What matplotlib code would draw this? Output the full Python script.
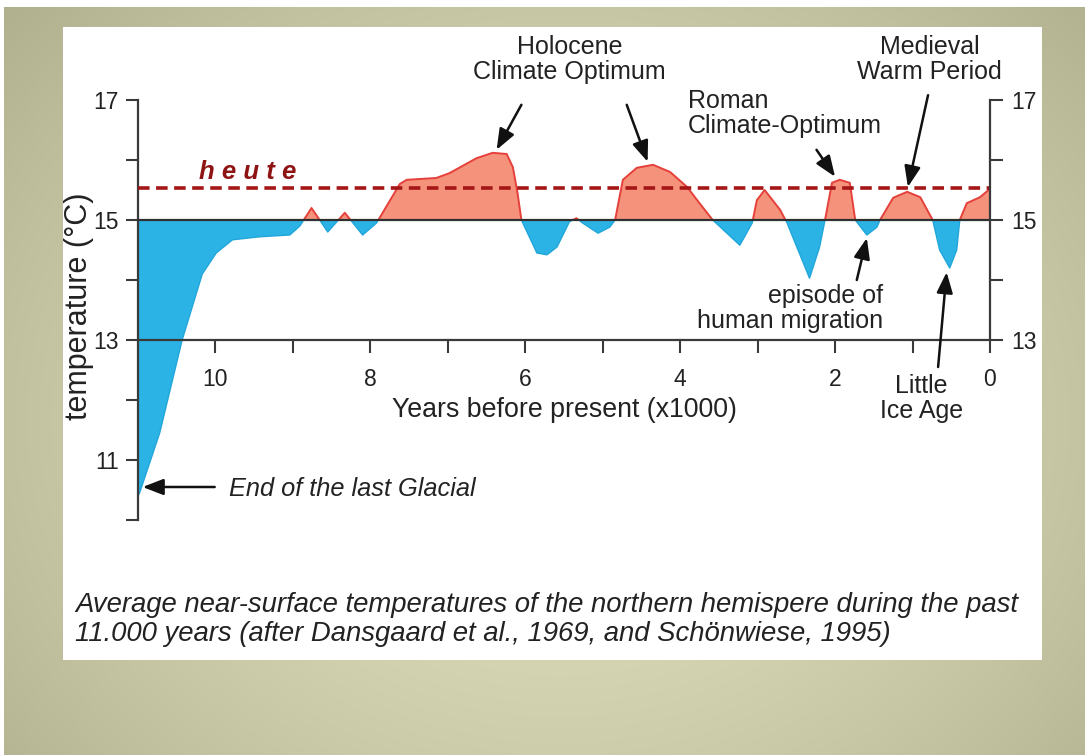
import numpy as np
import matplotlib
matplotlib.use("Agg")
import matplotlib.pyplot as plt
from matplotlib.ticker import FixedLocator

# ---------------- data ----------------
years_kyr = [11.0, 10.98, 10.72, 10.43, 10.30, 10.17, 9.99, 9.78, 9.43, 9.04, 8.91,
             8.76, 8.55, 8.33, 8.10, 7.92, 7.62, 7.53, 7.15, 6.98, 6.63, 6.42,
             6.24, 6.16, 6.10, 6.05, 5.85, 5.72, 5.59, 5.43, 5.34, 5.26, 5.06,
             4.91, 4.84, 4.74, 4.56, 4.35, 4.13, 3.91, 3.75, 3.58, 3.23, 3.07,
             3.01, 2.91, 2.71, 2.62, 2.33, 2.20, 2.13, 2.04, 1.94, 1.81, 1.74,
             1.59, 1.46, 1.42, 1.25, 1.07, 0.90, 0.74, 0.65, 0.52, 0.43, 0.39,
             0.30, 0.13, 0.0]
temperature = [10.40, 10.45, 11.45, 13.00, 13.55, 14.10, 14.45, 14.67, 14.72, 14.75, 14.90,
               15.20, 14.80, 15.12, 14.75, 14.95, 15.60, 15.67, 15.70, 15.78, 16.03, 16.12,
               16.10, 15.88, 15.45, 15.00, 14.45, 14.42, 14.55, 14.97, 15.03, 14.95, 14.78,
               14.88, 15.00, 15.67, 15.87, 15.92, 15.80, 15.55, 15.28, 15.00, 14.58, 14.95,
               15.33, 15.50, 15.17, 14.95, 14.03, 14.55, 15.00, 15.62, 15.67, 15.62, 15.00,
               14.75, 14.88, 15.00, 15.37, 15.47, 15.38, 15.00, 14.50, 14.20, 14.50, 15.00,
               15.28, 15.38, 15.52]
baseline_temp = 15.0
today_temp = 15.53
x_major = [0, 2, 4, 6, 8, 10]
x_minor = [1, 3, 5, 7, 9]
left_major = [11, 13, 15, 17]
left_minor = [10, 12, 14, 16]
right_major = [13, 15, 17]
right_minor = [14, 16]

W, H = 1085, 755
fig = plt.figure(figsize=(W / 100, H / 100), dpi=100)

# ---------------- background ----------------
bg = fig.add_axes([0, 0, 1, 1])
bg.set_axis_off()
yy, xx = np.mgrid[0:H, 0:W]
r = np.sqrt(((xx - 560) / 620.0) ** 2 + ((yy - 420) / 520.0) ** 2)
r = np.clip(r, 0, 1.2) / 1.2
c_in = np.array([222, 222, 188]) / 255.0
c_out = np.array([176, 176, 142]) / 255.0
img = c_in[None, None, :] * (1 - r[..., None] ** 1.6) + c_out[None, None, :] * (r[..., None] ** 1.6)
img[:7, :, :] = 1.0
img[:, :4, :] = 1.0
bg.imshow(img, extent=[0, W, H, 0], aspect="auto", interpolation="bilinear")
bg.add_patch(plt.Rectangle((63, 27), 1042 - 63, 660 - 27, facecolor="white", edgecolor="none"))
bg.set_xlim(0, W)
bg.set_ylim(H, 0)

# ---------------- main axes ----------------
TXT = "#222222"
FONT = "Liberation Sans"
ax = fig.add_axes([138 / W, (H - 520) / H, (990 - 138) / W, (520 - 100) / H])
ax.patch.set_alpha(0)
ax.set_xlim(11, 0)
ax.set_ylim(10, 17)

yrs = np.array(years_kyr)
tmp = np.array(temperature)
cyan = "#2BB3E6"
salmon = "#F5927C"
ax.fill_between(yrs, tmp, baseline_temp, where=tmp >= baseline_temp, interpolate=True,
                facecolor=salmon, edgecolor="#E5403A", lw=1.4, joinstyle="round", zorder=2)
ax.fill_between(yrs, tmp, baseline_temp, where=tmp <= baseline_temp, interpolate=True,
                facecolor=cyan, edgecolor="#22A6DA", lw=1.0, joinstyle="round", zorder=2)
ax.axhline(baseline_temp, color="#303030", lw=1.6, zorder=4)
ax.axhline(today_temp, color="#A51616", lw=2.6, ls=(0, (3.2, 1.8)), zorder=5)

for s in ["top", "right"]:
    ax.spines[s].set_visible(False)
ax.spines["bottom"].set_position(("data", 13))
ax.spines["left"].set_bounds(10, 17)
for s in ["bottom", "left"]:
    ax.spines[s].set_color("#3a3a3a")
    ax.spines[s].set_linewidth(1.6)

ax.xaxis.set_major_locator(FixedLocator(x_major))
ax.xaxis.set_minor_locator(FixedLocator(x_minor))
ax.set_xticklabels([str(v) for v in x_major])
ax.yaxis.set_major_locator(FixedLocator(left_major))
ax.yaxis.set_minor_locator(FixedLocator(left_minor))
ax.set_yticklabels([str(v) for v in left_major])
ax.tick_params(axis="both", which="both", direction="out", length=9, width=1.5,
               color="#3a3a3a", labelsize=16.5, labelcolor=TXT)
ax.tick_params(axis="x", pad=11)
ax.tick_params(axis="y", pad=5)
for lab in ax.get_xticklabels() + ax.get_yticklabels():
    lab.set_family(FONT)

ax2 = ax.twinx()
ax2.set_ylim(10, 17)
for s in ["top", "left", "bottom"]:
    ax2.spines[s].set_visible(False)
ax2.spines["right"].set_bounds(13, 17)
ax2.spines["right"].set_color("#3a3a3a")
ax2.spines["right"].set_linewidth(1.6)
ax2.yaxis.set_major_locator(FixedLocator(right_major))
ax2.yaxis.set_minor_locator(FixedLocator(right_minor))
ax2.set_yticklabels([str(v) for v in right_major])
ax2.tick_params(axis="y", which="both", direction="out", length=9, width=1.5,
                color="#3a3a3a", labelsize=16.5, labelcolor=TXT, pad=6)
for lab in ax2.get_yticklabels():
    lab.set_family(FONT)

# ---------------- text & annotations ----------------
arrow = dict(arrowstyle="-|>,head_length=0.9,head_width=0.35", color="#111111",
             lw=1.8, mutation_scale=14, shrinkA=0, shrinkB=0)
kw = dict(fontsize=18, color=TXT, family=FONT, linespacing=1.05)

ax.text(5.43, 17.67, "Holocene\nClimate Optimum", ha="center", va="center", **kw)
ax.annotate("", xy=(6.37, 16.17), xytext=(6.05, 16.92), arrowprops=arrow)
ax.annotate("", xy=(4.42, 15.97), xytext=(4.69, 16.92), arrowprops=arrow)

ax.text(3.90, 16.77, "Roman\nClimate-Optimum", ha="left", va="center", **kw)
ax.annotate("", xy=(2.00, 15.72), xytext=(2.24, 16.17), arrowprops=arrow)

ax.text(0.78, 17.68, "Medieval\nWarm Period", ha="center", va="center", multialignment="center", **kw)
ax.annotate("", xy=(1.06, 15.55), xytext=(0.80, 17.08), arrowprops=arrow)

ax.text(1.38, 13.53, "episode of\nhuman migration", ha="right", va="center", multialignment="right", **kw)
ax.annotate("", xy=(1.59, 14.70), xytext=(1.72, 14.00), arrowprops=arrow)

ax.text(0.89, 12.02, "Little\nIce Age", ha="center", va="center", multialignment="center", **kw)
ax.annotate("", xy=(0.56, 14.13), xytext=(0.67, 12.55), arrowprops=arrow)

ax.text(5.49, 11.83, "Years before present (x1000)", ha="center", va="center",
        fontsize=19.3, color=TXT, family=FONT)

ax.text(9.82, 10.52, "End of the last Glacial", ha="left", va="center", style="italic",
        fontsize=18.3, color=TXT, family=FONT)
ax.annotate("", xy=(10.94, 10.55), xytext=(10.01, 10.55), arrowprops=arrow)

ax.text(10.21, 15.80, "h e u t e", ha="left", va="center", style="italic", weight="bold",
        fontsize=18.5, color="#8E1414", family=FONT)

fig.text(79 / W, 1 - 306 / H, "temperature (°C)", rotation=90, ha="center", va="center",
         fontsize=22, color=TXT, family=FONT)

fig.text(75 / W, 1 - 605 / H, "Average near-surface temperatures of the northern hemispere during the past",
         ha="left", va="center", style="italic", fontsize=19.8, color=TXT, family=FONT)
fig.text(75 / W, 1 - 634 / H, "11.000 years (after Dansgaard et al., 1969, and Schönwiese, 1995)",
         ha="left", va="center", style="italic", fontsize=19.8, color=TXT, family=FONT)

fig.savefig("out.png", dpi=100)
